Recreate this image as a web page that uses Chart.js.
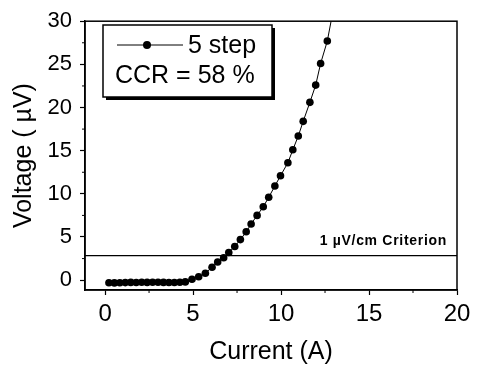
<!DOCTYPE html>
<html>
<head>
<meta charset="utf-8">
<script src="https://cdn.jsdelivr.net/npm/chart.js@4.4.1/dist/chart.umd.min.js"></script>
<style>
  html, body { margin: 0; padding: 0; background: #fff; }
  #wrap { width: 478px; height: 370px; }
</style>
</head>
<body>
<div id="wrap"><canvas id="myChart" width="478" height="370"></canvas></div>
<script>
// Údaje odčítané z obrázka (prúd v A, napätie v µV)
const currentA = [0.22, 0.53, 0.84, 1.15, 1.46, 1.77, 2.08, 2.39, 2.70, 3.01, 3.32, 3.63, 3.94, 4.25,
    4.56, 4.94, 5.32, 5.70, 6.08, 6.40, 6.74, 7.03, 7.37, 7.69, 8.02, 8.30, 8.64, 8.99, 9.30,
    9.65, 9.97, 10.39, 10.67, 10.98, 11.26, 11.64, 11.97, 12.25, 12.63, 12.90];
const voltageUV = [-0.30, -0.32, -0.30, -0.28, -0.26, -0.27, -0.25, -0.26, -0.25, -0.25, -0.26, -0.27, -0.27, -0.25,
    -0.20, 0.10, 0.40, 0.80, 1.50, 2.10, 2.60, 3.20, 3.90, 4.70, 5.60, 6.50, 7.50, 8.50, 9.60,
    10.9, 12.1, 13.6, 15.1, 16.7, 18.4, 20.6, 22.6, 25.1, 27.7, 30.6];
// posledný bod je len pokračovanie čiary nad okraj grafu
const criterionV = 2.85;
const criterionText = "1 \u00b5V/cm Criterion";
const legendLabel = "5 step";
const ccrText = "CCR = 58 %";
const xTicks = [0, 5, 10, 15, 20];
const yTicks = [0, 5, 10, 15, 20, 25, 30];
const xMinor = [2.5, 7.5, 12.5, 17.5];
const yMinor = [2.5, 7.5, 12.5, 17.5, 22.5, 27.5];

const FONT = "'Liberation Sans', Arial, sans-serif";

const points = currentA.map((x, i) => ({ x: x, y: voltageUV[i] }));

// Plugin na rámik, vedľajšie čiarky, legendu a popis kritéria
const kresliDoplnky = {
    id: "doplnky",
    afterDraw(chart) {
        const ctx = chart.ctx;
        const a = chart.chartArea;
        const sx = chart.scales.x, sy = chart.scales.y;
        ctx.save();
        ctx.strokeStyle = "#000";
        ctx.lineWidth = 1.5;
        ctx.strokeRect(a.left, a.top, a.right - a.left, a.bottom - a.top);

        // vedľajšie čiarky
        ctx.lineWidth = 1;
        xMinor.forEach(v => {
            const px = sx.getPixelForValue(v);
            ctx.beginPath(); ctx.moveTo(px, a.bottom); ctx.lineTo(px, a.bottom + 3); ctx.stroke();
        });
        yMinor.forEach(v => {
            const py = sy.getPixelForValue(v);
            ctx.beginPath(); ctx.moveTo(a.left, py); ctx.lineTo(a.left - 3, py); ctx.stroke();
        });

        // legenda s tieňom
        const bx = 103, by = 25, bw = 169, bh = 72;
        ctx.fillStyle = "#000";
        ctx.fillRect(bx + 3, by + 3, bw, bh);
        ctx.fillStyle = "#fff";
        ctx.fillRect(bx, by, bw, bh);
        ctx.lineWidth = 1.5;
        ctx.strokeRect(bx, by, bw, bh);
        ctx.lineWidth = 1;
        ctx.beginPath(); ctx.moveTo(117, 45); ctx.lineTo(183, 45); ctx.stroke();
        ctx.fillStyle = "#000";
        ctx.beginPath(); ctx.arc(147, 45, 4, 0, Math.PI * 2); ctx.fill();
        ctx.font = "25px " + FONT;
        ctx.textBaseline = "middle";
        ctx.textAlign = "left";
        ctx.fillText(legendLabel, 188, 46);
        ctx.fillText(ccrText, 115, 76);

        // popis kritéria
        ctx.font = "bold 14px " + FONT;
        ctx.letterSpacing = "0.7px";
        ctx.textAlign = "right";
        ctx.fillText(criterionText, 447, 241);
        ctx.restore();
    }
};

const ctx = document.getElementById("myChart").getContext("2d");
const myChart = new Chart(ctx, {
    type: "scatter",
    data: {
        datasets: [
            {
                data: points,
                showLine: true,
                borderColor: "#000",
                borderWidth: 1,
                backgroundColor: "#000",
                pointRadius: c => (c.dataIndex === points.length - 1 ? 0 : 3.8),
                pointBorderWidth: 0
            },
            {
                data: [{ x: -1.14, y: criterionV }, { x: 20, y: criterionV }],
                showLine: true,
                borderColor: "#000",
                borderWidth: 1.3,
                pointRadius: 0
            }
        ]
    },
    options: {
        responsive: false,
        animation: false,
        layout: { padding: { top: 16, right: 21, left: 0, bottom: 0 } },
        plugins: { legend: { display: false }, tooltip: { enabled: false } },
        scales: {
            x: {
                type: "linear",
                min: -1.14,
                max: 20,
                afterBuildTicks: s => { s.ticks = xTicks.map(v => ({ value: v })); },
                afterFit: s => { s.height = 80; },
                ticks: { color: "#000", font: { family: FONT, size: 24 }, padding: 5 },
                grid: { drawOnChartArea: false, tickLength: 5, tickColor: "#000", tickWidth: 1.2 },
                border: { color: "#000", width: 1.5 },
                title: { display: true, text: "Current (A)", color: "#000", font: { family: FONT, size: 25 }, padding: { top: 0, bottom: 3 } }
            },
            y: {
                type: "linear",
                min: -1.14,
                max: 30,
                afterBuildTicks: s => { s.ticks = yTicks.map(v => ({ value: v })); },
                afterFit: s => { s.width = 85; },
                ticks: { color: "#000", font: { family: FONT, size: 22 }, padding: 8 },
                grid: { drawOnChartArea: false, tickLength: 5, tickColor: "#000", tickWidth: 1.2 },
                border: { color: "#000", width: 1.5 },
                title: { display: true, text: "Voltage ( \u00b5V)", color: "#000", font: { family: FONT, size: 25 }, padding: { top: 9, bottom: 0 } }
            }
        }
    },
    plugins: [kresliDoplnky]
});
</script>
</body>
</html>
